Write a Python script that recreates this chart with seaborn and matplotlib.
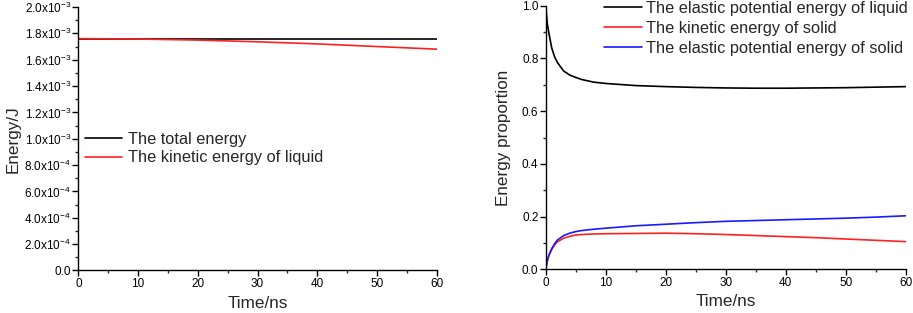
import numpy as np
import pandas as pd
import matplotlib
matplotlib.use("Agg")
import matplotlib.pyplot as plt
from matplotlib.ticker import MultipleLocator, FuncFormatter
import seaborn as sns

# datos
t_izq = [0, 10, 20, 30, 40, 50, 60]
energia_total = [1.760e-3, 1.760e-3, 1.760e-3, 1.760e-3, 1.760e-3, 1.760e-3, 1.760e-3]
cinetica_liquido = [1.760e-3, 1.757e-3, 1.749e-3, 1.736e-3, 1.720e-3, 1.700e-3, 1.680e-3]

t_der = [0, 0.25, 0.5, 1, 1.5, 2, 3, 4, 5, 6, 8, 10, 15, 20, 25, 30, 35, 40, 45, 50, 55, 60]
elastica_liquido = [1.0, 0.935, 0.9, 0.84, 0.805, 0.783, 0.752, 0.737, 0.728, 0.72, 0.71, 0.705,
                    0.697, 0.693, 0.69, 0.688, 0.687, 0.687, 0.688, 0.689, 0.691, 0.693]
cinetica_solido = [0, 0.03, 0.05, 0.075, 0.093, 0.105, 0.118, 0.125, 0.13, 0.132, 0.134, 0.135,
                   0.136, 0.137, 0.135, 0.132, 0.128, 0.124, 0.12, 0.115, 0.11, 0.105]
elastica_solido = [0, 0.03, 0.052, 0.078, 0.098, 0.112, 0.128, 0.137, 0.143, 0.147, 0.152, 0.156,
                   0.165, 0.171, 0.177, 0.182, 0.185, 0.188, 0.191, 0.194, 0.198, 0.203]

sns.set_style("ticks")
plt.rcParams['font.family'] = ['Liberation Sans', 'DejaVu Sans']
plt.rcParams['mathtext.fontset'] = 'custom'
plt.rcParams['mathtext.rm'] = 'Liberation Sans'
plt.rcParams['mathtext.it'] = 'Liberation Sans:italic'


def formato_sci(v, pos):
    if abs(v) < 1e-12:
        return "0.0"
    exp = int(np.floor(np.log10(abs(v)) + 1e-9))
    man = v / 10 ** exp
    return r"%.1fx10$^{%d}$" % (man, exp)


fig = plt.figure(figsize=(9.13, 3.13), dpi=100)
ax1 = fig.add_axes([0.0858, 0.1358, 0.3925, 0.8418])
ax2 = fig.add_axes([0.5977, 0.1396, 0.3943, 0.8422])

df1 = pd.DataFrame({'t': t_izq, 'total': energia_total, 'cin': cinetica_liquido})
sns.lineplot(data=df1, x='t', y='total', color='black', lw=1.2, ax=ax1, label='The total energy')
sns.lineplot(data=df1, x='t', y='cin', color='#ff2020', lw=1.2, ax=ax1, label='The kinetic energy of liquid')

df2 = pd.DataFrame({'t': t_der, 'el': elastica_liquido, 'cs': cinetica_solido, 'es': elastica_solido})
sns.lineplot(data=df2, x='t', y='el', color='black', lw=1.2, ax=ax2, label='The elastic potential energy of liquid')
sns.lineplot(data=df2, x='t', y='cs', color='#ff2020', lw=1.2, ax=ax2, label='The kinetic energy of solid')
sns.lineplot(data=df2, x='t', y='es', color='#1a1aff', lw=1.2, ax=ax2, label='The elastic potential energy of solid')

ax1.set_xlim(0, 60)
ax1.set_ylim(0, 2.0e-3)
ax1.yaxis.set_major_locator(MultipleLocator(2e-4))
ax1.yaxis.set_minor_locator(MultipleLocator(1e-4))
ax1.yaxis.set_major_formatter(FuncFormatter(formato_sci))
ax1.set_ylabel('Energy/J', fontsize=12.3, labelpad=3)

ax2.set_xlim(0, 60)
ax2.set_ylim(0, 1.0)
ax2.yaxis.set_major_locator(MultipleLocator(0.2))
ax2.yaxis.set_minor_locator(MultipleLocator(0.1))
ax2.set_ylabel('Energy proportion', fontsize=12.3, labelpad=8)

for ax in (ax1, ax2):
    ax.xaxis.set_major_locator(MultipleLocator(10))
    ax.xaxis.set_minor_locator(MultipleLocator(5))
    ax.set_xlabel('Time/ns', fontsize=12.3, labelpad=4)
    ax.tick_params(which='major', direction='out', length=4, width=1, labelsize=8.5, colors='black')
    ax.tick_params(which='minor', direction='out', length=2.5, width=1)
    ax.tick_params(axis='x', which='major', pad=1.5)
    ax.tick_params(axis='y', which='major', pad=1.2)
    for s in ('top', 'right'):
        ax.spines[s].set_visible(False)
    for s in ('left', 'bottom'):
        ax.spines[s].set_linewidth(1)
        ax.spines[s].set_color('black')

ax1.legend(loc='center left', bbox_to_anchor=(0.0187, 0.463), frameon=False, fontsize=11.8,
           handlelength=2.25, handletextpad=0.37, labelspacing=0.22, borderpad=0, borderaxespad=0)
ax2.legend(loc='upper left', bbox_to_anchor=(0.162, 1.0175), frameon=False, fontsize=11.8,
           handlelength=2.3, handletextpad=0.25, labelspacing=0.3, borderpad=0, borderaxespad=0)

fig.savefig('out.png', dpi=100)
